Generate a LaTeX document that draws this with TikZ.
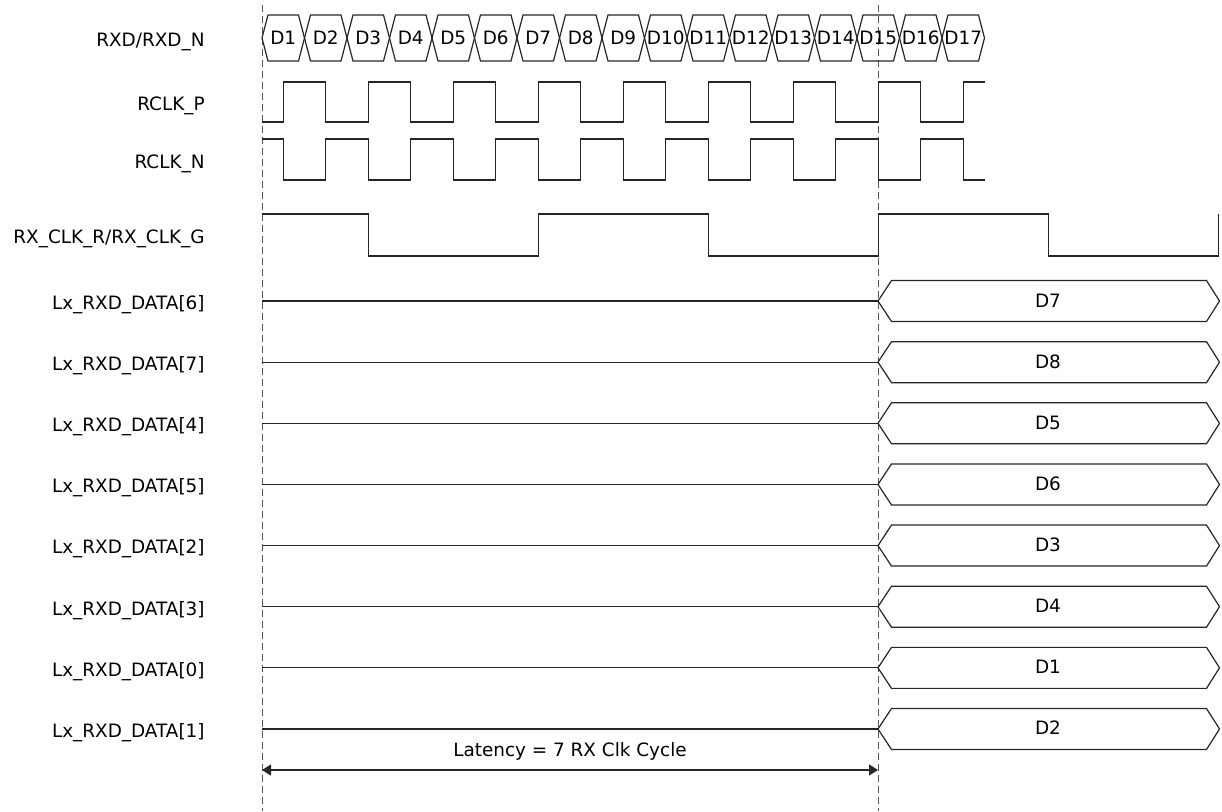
\documentclass[tikz,border=0pt]{standalone}
\usepackage{fontspec}
\setmainfont{DejaVu Sans}
\usetikzlibrary{arrows.meta}

\begin{document}
\begin{tikzpicture}[
    x=0.5pt, y=-0.5pt,
    every node/.style={font=\fontsize{9.2}{11}\selectfont, inner sep=0pt},
    signal/.style={draw=black!85, line width=0.6pt, line join=miter},
    repere/.style={draw=black!65, line width=0.5pt, dash pattern=on 3.5pt off 2pt},
    nom/.style={anchor=base east},
    valeur/.style={anchor=base},
    fleche/.style={draw=black!85, line width=0.6pt, {Triangle[length=4.5pt,width=5.5pt]}-{Triangle[length=4.5pt,width=5.5pt]}},
]
\useasboundingbox (0,0) rectangle (1222,811);

% Repères verticaux
\coordinate (g0) at (262,5);
\coordinate (g1) at (262,811);
\coordinate (d0) at (878,5);
\coordinate (d1) at (878,811);
\draw[repere] (g0) -- (g1);
\draw[repere] (d0) -- (d1);

% Noms des signaux
\node[nom] (nrxd) at (205,46.5) {RXD/RXD\_N};
\node[nom] (nclkp) at (205,110.5) {RCLK\_P};
\node[nom] (nclkn) at (205,168.5) {RCLK\_N};
\node[nom] (nrxclk) at (205,243.5) {RX\_CLK\_R/RX\_CLK\_G};

% Données série
\foreach \i in {1,...,17} {
    \pgfmathsetmacro\xa{262+42.5*(\i-1)}
    \pgfmathsetmacro\xb{\xa+42.5}
    \draw[signal] (\xa,38) -- (\xa+6,15) -- (\xb-6,15) -- (\xb,38)
        -- (\xb-6,61) -- (\xa+6,61) -- cycle;
    \node[valeur] (s\i) at (\xa+21.25,44.5) {D\i};
}

% Horloges RCLK_P et RCLK_N
\draw[signal] (262,122)
    \foreach \m in {0,...,7} {
        -- ({283.25+85*\m},122) -- ({283.25+85*\m},82)
        -- ({325.75+85*\m},82) -- ({325.75+85*\m},122)
    } -- (963.25,122) -- (963.25,82) -- (985,82);
\draw[signal] (262,139)
    \foreach \m in {0,...,7} {
        -- ({283.25+85*\m},139) -- ({283.25+85*\m},180)
        -- ({325.75+85*\m},180) -- ({325.75+85*\m},139)
    } -- (963.25,139) -- (963.25,180) -- (985,180);

% Horloge RX_CLK
\draw[signal] (262,214)
    \foreach \m in {0,1,2} {
        -- ({368.25+340*\m},214) -- ({368.25+340*\m},256)
        -- ({538.25+340*\m},256) -- ({538.25+340*\m},214)
    };

% Données parallèles
\foreach \b/\d [count=\i from 0] in {6/7, 7/8, 4/5, 5/6, 2/3, 3/4, 0/1, 1/2} {
    \pgfmathsetmacro\yr{301+61.14*\i}
    \node[nom] (n\b) at (205,\yr+8.3) {Lx\_RXD\_DATA[\b]};
    \coordinate (a\b) at (262,\yr);
    \coordinate (h\b) at (878,\yr);
    \draw[signal] (a\b) -- (h\b);
    \draw[signal] (h\b) -- (891.5,\yr-20.5) -- (1206.5,\yr-20.5) -- (1219.5,\yr)
        -- (1206.5,\yr+20.5) -- (891.5,\yr+20.5) -- cycle;
    \node[valeur] (v\b) at (1048,\yr+6) {D\d};
}

% Latence
\coordinate (la) at (262,770);
\coordinate (lb) at (878,770);
\draw[fleche] (la) -- (lb);
\node[valeur] (lat) at (570,756.5) {Latency = 7 RX Clk Cycle};

\end{tikzpicture}
\end{document}
